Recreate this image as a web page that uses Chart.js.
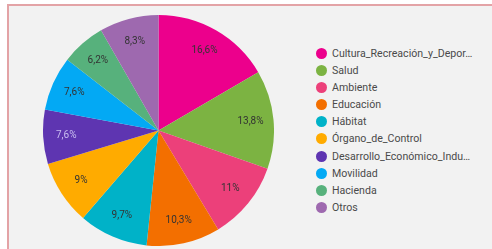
<!DOCTYPE html>
<html>
<head>
<meta charset="utf-8">
<script src="https://cdn.jsdelivr.net/npm/chart.js@4"></script>
<style>
    html, body { margin: 0; padding: 0; background: #fff; }
    body { width: 492px; height: 249px; position: relative; overflow: hidden; font-family: Roboto, "Noto Sans", sans-serif; }
    .frame {
        position: absolute; left: 7px; top: 4px; width: 500px; height: 260px;
        background: #f2f2f2;
        border-top: 2px solid #e3a3a6;
        border-left: 2px solid #e3a3a6;
    }
    .pie-box { position: absolute; left: 43px; top: 15px; width: 231px; height: 231px; }
    #legend { position: absolute; left: 316px; top: 45px; margin: 0; padding: 0; list-style: none; }
    #legend li { height: 17.1px; line-height: 17px; font-size: 10.6px; color: #4a4a4a; white-space: nowrap; }
    #legend .dot { display: inline-block; width: 11px; height: 11px; border-radius: 50%; vertical-align: -2px; margin-right: 5px; }
</style>
</head>
<body>
<div class="frame"></div>
<div class="pie-box"><canvas id="pieChart"></canvas></div>
<ul id="legend"></ul>

<script>
const categories = [
    'Cultura_Recreación_y_Depor…',
    'Salud',
    'Ambiente',
    'Educación',
    'Hábitat',
    'Órgano_de_Control',
    'Desarrollo_Económico_Indu…',
    'Movilidad',
    'Hacienda',
    'Otros'
];
const shares = [16.6, 13.8, 11, 10.3, 9.7, 9, 7.6, 7.6, 6.2, 8.3];
const sliceColors = ['#ec008c', '#7cb342', '#ec407a', '#f36f00', '#00b2c8', '#ffab00', '#5e35b1', '#03a9f4', '#57b17c', '#9e69af'];
const labelColors = ['#333', '#333', '#333', '#333', '#333', '#333', '#c9bdf0', '#333', '#333', '#333'];

// percentage labels drawn inside each slice, about 0.8 of the radius out
const sliceLabels = {
    id: 'sliceLabels',
    afterDatasetsDraw(chart) {
        const ctx = chart.ctx;
        const meta = chart.getDatasetMeta(0);
        ctx.save();
        ctx.font = '10px Roboto, sans-serif';
        ctx.textAlign = 'center';
        ctx.textBaseline = 'middle';
        meta.data.forEach((arc, i) => {
            const p = arc.getProps(['x', 'y', 'startAngle', 'endAngle', 'outerRadius'], true);
            const mid = (p.startAngle + p.endAngle) / 2;
            const r = p.outerRadius * 0.8;
            ctx.fillStyle = labelColors[i];
            ctx.fillText(String(shares[i]).replace('.', ',') + '%', p.x + Math.cos(mid) * r, p.y + Math.sin(mid) * r);
        });
        ctx.restore();
    }
};

new Chart(document.getElementById('pieChart'), {
    type: 'pie',
    data: {
        labels: categories,
        datasets: [{
            data: shares,
            backgroundColor: sliceColors,
            borderWidth: 0
        }]
    },
    options: {
        responsive: true,
        maintainAspectRatio: false,
        animation: false,
        layout: { padding: 0 },
        plugins: {
            legend: { display: false },
            tooltip: { enabled: false }
        }
    },
    plugins: [sliceLabels]
});

// legend built from the same arrays
document.getElementById('legend').innerHTML = categories.map((name, i) =>
    `<li><span class="dot" style="background:${sliceColors[i]}"></span>${name}</li>`
).join('');
</script>
</body>
</html>
